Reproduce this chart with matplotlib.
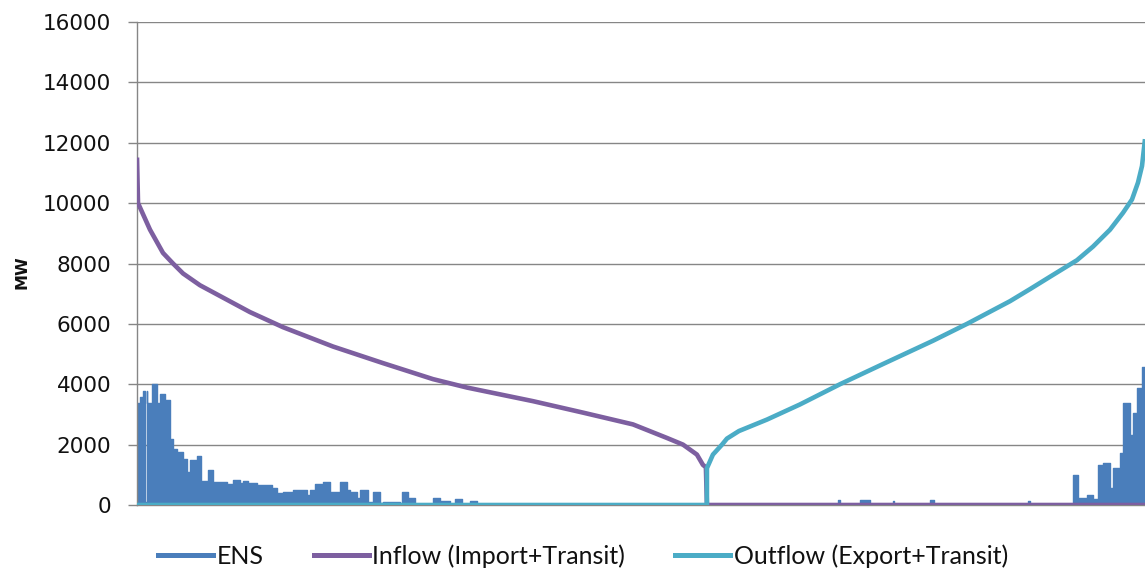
import matplotlib
matplotlib.use("Agg")
import matplotlib.pyplot as plt
from matplotlib.lines import Line2D

# Hours of the year (sorted duration curves)
HOURS = 8760

# Inflow (Import+Transit), MW, sorted descending
inflow_hour = [0, 9, 113, 226, 313, 400, 547, 982, 1269, 1703, 2138, 2572,
               2868, 3441, 3876, 4310, 4606, 4745, 4866, 4918, 4944, 4953, 8760]
inflow_mw = [11510, 10000, 9120, 8350, 8000, 7670, 7280, 6390, 5890, 5250,
             4700, 4170, 3890, 3440, 3060, 2670, 2220, 2000, 1670, 1330, 1250, 0, 0]

# Outflow (Export+Transit), MW, sorted ascending
outflow_hour = [0, 4953, 4953, 5005, 5084, 5127, 5231, 5475, 5761, 6109, 6483,
                6917, 7213, 7586, 7760, 7934, 8169, 8308, 8456, 8569, 8647,
                8699, 8734, 8760]
outflow_mw = [0, 0, 1220, 1670, 2000, 2200, 2450, 2830, 3330, 4000, 4670,
              5440, 6000, 6750, 7150, 7560, 8110, 8560, 9120, 9680, 10120,
              10680, 11230, 12120]

# Energy not supplied (ENS), MW, hourly steps
ens_hour = [0, 26, 52, 70, 83, 87, 130, 174, 200, 243,
            287, 313, 348, 400, 435, 461, 521, 556, 617, 660,
            782, 834, 895, 921, 965, 982, 1043, 1173, 1217, 1269,
            1356, 1477, 1503, 1547, 1608, 1616, 1677, 1764, 1825, 1851,
            1912, 1938, 2007, 2051, 2112, 2138, 2285, 2303, 2355, 2416,
            2572, 2633, 2720, 2763, 2824, 2894, 2955, 6092, 6110, 6283,
            6370, 6570, 6583, 6891, 6926, 7743, 7760, 8134, 8177, 8256,
            8308, 8351, 8394, 8456, 8482, 8542, 8569, 8630, 8656, 8690,
            8734, 8760]
ens_mw = [3370, 3590, 3790, 100, 3790, 3370, 4010, 3370, 3680, 3480,
          2200, 1870, 1760, 1530, 1090, 1500, 1610, 810, 1170, 760,
          680, 830, 720, 810, 720, 714, 660, 550, 385, 440,
          495, 330, 495, 680, 445, 770, 440, 770, 500, 440,
          220, 495, 110, 440, 60, 110, 0, 440, 220, 0,
          240, 130, 0, 200, 0, 130, 0, 150, 0, 180,
          0, 120, 0, 150, 0, 120, 0, 1000, 220, 330,
          200, 1330, 1390, 560, 1220, 1720, 3390, 2330, 3050, 3890,
          4560, 4560]

y_ticks = [0, 2000, 4000, 6000, 8000, 10000, 12000, 14000, 16000]
series_names = ["ENS", "Inflow (Import+Transit)", "Outflow (Export+Transit)"]

C_ENS = "#4A7EBB"
C_IN = "#7D5FA0"
C_OUT = "#4BACC6"
C_AX = "#868686"

W, H = 1145, 569
fig = plt.figure(figsize=(W / 100, H / 100), dpi=100)
ax = fig.add_axes([137 / W, 1 - 505 / H, 1 - 137 / W, (505 - 22) / H])

ax.fill_between(ens_hour, ens_mw, step="post", color=C_ENS, lw=0, zorder=2)
ax.step(ens_hour, ens_mw, where="post", color=C_ENS, lw=1.0, zorder=2)
ax.plot(inflow_hour, inflow_mw, color=C_IN, lw=3.3, solid_joinstyle="round",
        solid_capstyle="butt", zorder=3)
ax.plot(outflow_hour, outflow_mw, color=C_OUT, lw=3.3, solid_joinstyle="round",
        solid_capstyle="butt", zorder=4)

ax.set_xlim(0, HOURS)
ax.set_ylim(0, 16000)
ax.set_yticks(y_ticks)
ax.set_yticklabels([str(v) for v in y_ticks])
ax.set_xticks([])
ax.grid(axis="y", color=C_AX, lw=1.0, zorder=1)
ax.set_axisbelow(True)
for side in ("top", "right"):
    ax.spines[side].set_visible(False)
ax.spines["left"].set_color(C_AX)
ax.spines["left"].set_linewidth(1.0)
ax.spines["bottom"].set_color(C_AX)
ax.spines["bottom"].set_linewidth(1.0)
ax.tick_params(axis="y", direction="out", length=6.5, width=1.0, color=C_AX,
               pad=12, labelsize=15.5, labelcolor="#111111")

fig.text(22 / W, 1 - 272 / H, "MW", rotation=90, ha="center", va="center",
         fontsize=11.5, fontweight="bold", color="#111111")

handles = [Line2D([], [], color=c, lw=3.6) for c in (C_ENS, C_IN, C_OUT)]
fig.legend(handles, series_names, loc="center", ncol=3, frameon=False,
           bbox_to_anchor=(583 / W, 1 - 556 / H), handlelength=2.2,
           handletextpad=0.15, columnspacing=2.0,
           prop={"family": ["Lato", "DejaVu Sans"], "size": 18})
for t in fig.legends[0].get_texts():
    t.set_color("#111111")

fig.savefig("out.png", dpi=100)
